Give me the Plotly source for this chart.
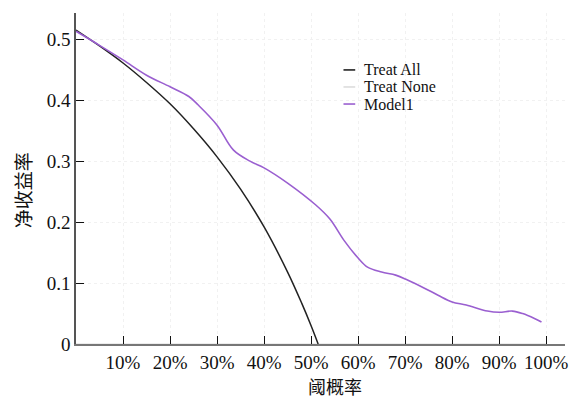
import plotly.graph_objects as go

# Threshold probability (%) and net benefit for each strategy
treat_all_x = [0, 5, 10, 15, 20, 25, 30, 35, 40, 45, 48, 50, 51.5]
treat_all_y = [0.515, 0.489, 0.461, 0.429, 0.394, 0.353, 0.307, 0.254, 0.192, 0.118, 0.067, 0.030, 0.0]

treat_none_x = [0, 100]
treat_none_y = [0.0, 0.0]

model1_x = [0, 5, 10, 15, 20, 24, 26, 30, 33.5, 37, 40, 45, 51, 54, 57, 60, 62,
            65, 68, 70.5, 74, 77, 80, 83, 87.5, 90, 92.8, 95, 97.5, 99]
model1_y = [0.513, 0.490, 0.466, 0.441, 0.422, 0.406, 0.392, 0.359, 0.318, 0.300,
            0.289, 0.264, 0.228, 0.205, 0.170, 0.141, 0.126, 0.118, 0.113, 0.105,
            0.092, 0.080, 0.069, 0.064, 0.054, 0.052, 0.054, 0.050, 0.042, 0.036]

x_tick_vals = [10, 20, 30, 40, 50, 60, 70, 80, 90, 100]
x_tick_text = ["10%", "20%", "30%", "40%", "50%", "60%", "70%", "80%", "90%", "100%"]
y_tick_vals = [0, 0.1, 0.2, 0.3, 0.4, 0.5]
y_tick_text = ["0", "0.1", "0.2", "0.3", "0.4", "0.5"]

series_names = ["Treat All", "Treat None", "Model1"]
series_colors = ["#222222", "#dcdcdc", "#9a5fd0"]

SERIF = "Liberation Serif, Noto Sans CJK SC, serif"
CJK = "Noto Sans CJK SC, sans-serif"

fig = go.Figure()
fig.add_trace(go.Scatter(x=treat_none_x, y=treat_none_y, mode="lines",
                         line=dict(color=series_colors[1], width=1.2),
                         name=series_names[1], showlegend=False))
fig.add_trace(go.Scatter(x=treat_all_x, y=treat_all_y, mode="lines",
                         line=dict(color=series_colors[0], width=1.5, shape="spline", smoothing=1),
                         name=series_names[0], showlegend=False))
fig.add_trace(go.Scatter(x=model1_x, y=model1_y, mode="lines",
                         line=dict(color=series_colors[2], width=1.6, shape="spline", smoothing=1),
                         name=series_names[2], showlegend=False))

# Hand-placed legend: short line sample plus label for each series
legend_top = 0.828
legend_step = 0.0515
shapes = []
annotations = []
for i, (nm, col) in enumerate(zip(series_names, series_colors)):
    yy = legend_top - i * legend_step
    shapes.append(dict(type="line", xref="paper", yref="paper",
                       x0=0.547, x1=0.571, y0=yy, y1=yy,
                       line=dict(color=col, width=1.6)))
    annotations.append(dict(text=nm, xref="paper", yref="paper", x=0.585, y=yy,
                            xanchor="left", yanchor="middle", showarrow=False,
                            font=dict(family=SERIF, size=16, color="#111")))

annotations.append(dict(text="阈概率", xref="paper", yref="paper", x=0.53, y=-0.126,
                        xanchor="center", yanchor="middle", showarrow=False,
                        font=dict(family=CJK, size=18, color="#111")))
annotations.append(dict(text="净收益率", xref="paper", yref="paper", x=-0.11, y=0.465,
                        xanchor="center", yanchor="middle", showarrow=False, textangle=-90,
                        font=dict(family=CJK, size=19, color="#111")))

fig.update_layout(
    width=576, height=399,
    margin=dict(l=76, r=8, t=13, b=55),
    paper_bgcolor="white", plot_bgcolor="white",
    shapes=shapes, annotations=annotations,
    showlegend=False,
)
fig.update_xaxes(range=[0, 104], tickvals=x_tick_vals, ticktext=x_tick_text,
                 ticks="inside", ticklen=8, tickwidth=1, tickcolor="#111",
                 showline=True, linecolor="#777", linewidth=2,
                 showgrid=True, gridcolor="#f1f1f1", griddash="dot", gridwidth=1,
                 zeroline=False,
                 tickfont=dict(family=SERIF, size=19, color="#111"))
fig.update_yaxes(range=[0, 0.543], tickvals=y_tick_vals, ticktext=y_tick_text,
                 ticks="inside", ticklen=8, tickwidth=1, tickcolor="#111",
                 showline=True, linecolor="#555", linewidth=1.5,
                 showgrid=True, gridcolor="#f1f1f1", griddash="dot", gridwidth=1,
                 zeroline=False,
                 tickfont=dict(family=SERIF, size=19, color="#111"))

fig.write_html("out.html")
